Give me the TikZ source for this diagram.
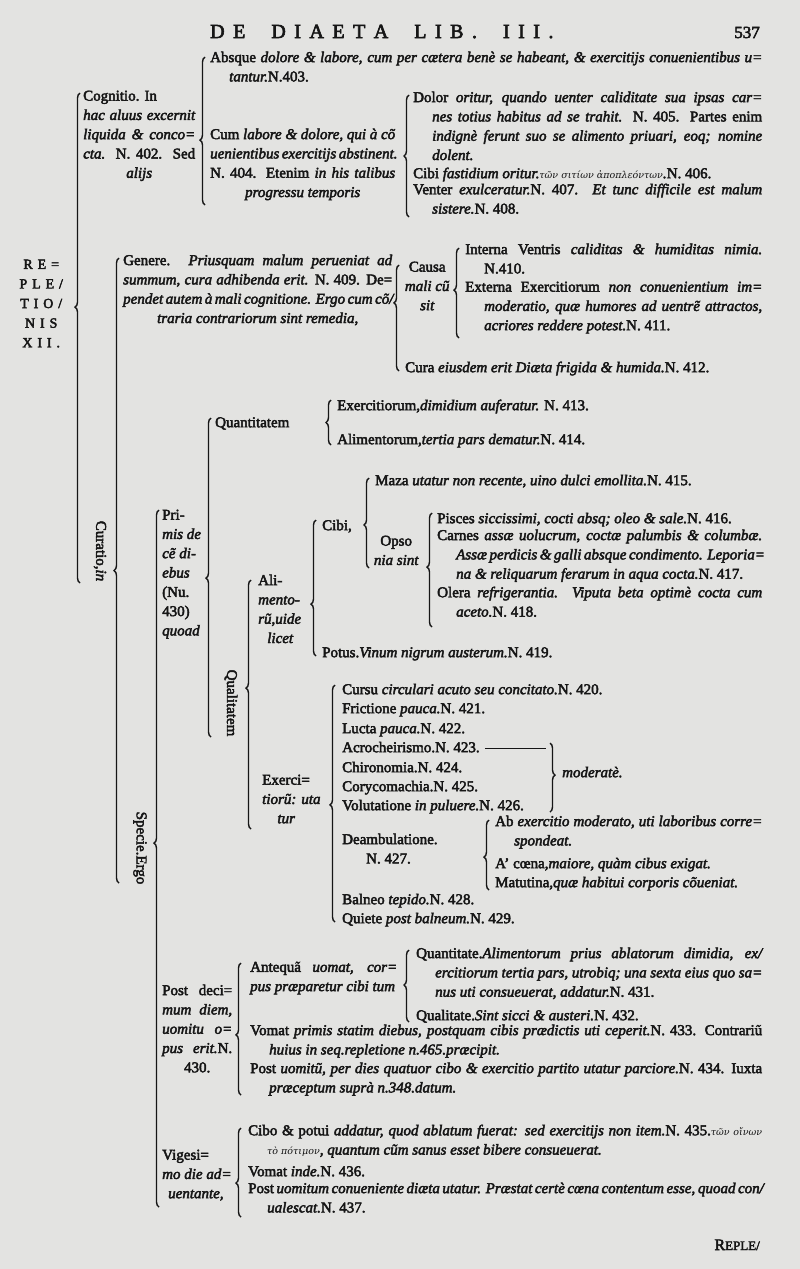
\documentclass[tikz,border=0pt]{standalone}
\usepackage{fontspec}
\setmainfont{Liberation Serif}[UprightFeatures={FakeBold=3}, ItalicFeatures={FakeBold=3}]
\newfontfamily\grk{DejaVu Serif}
\usepackage{tikz}
\usetikzlibrary{decorations.pathreplacing}
\definecolor{Paper}{HTML}{E3E3E1}
\definecolor{Ink}{HTML}{161616}
\newcommand\bodyfont{\fontsize{15}{19.3}\selectfont\itshape}
\newcommand\up[1]{\textup{#1}}
\newcommand\gr[1]{{\grk\itshape\fontsize{9.5}{11}\selectfont #1}}
\newcommand\jl[2]{\hbox to #1pt{#2}}
\newcommand\cl[2]{\hbox to #1pt{\hfil#2\hfil}}
\newcommand\ind{\hspace*{19pt}}
\newcommand\ls{\kern8.5pt}
\newcommand\ws{\kern26pt}

\begin{document}
\begin{tikzpicture}[
  x=1pt, y=-1pt,
  txt/.style={anchor=north west, inner sep=0pt, yshift=13.5pt, align=left, font=\bodyfont, text=Ink, execute at begin node=\strut},
  rot/.style={anchor=center, inner sep=0pt, rotate=-90, font=\fontsize{15}{17}\selectfont, text=Ink},
  head/.style={anchor=base west, inner sep=0pt, font=\fontsize{20}{22}\selectfont, text=Ink},
  folio/.style={anchor=base east, inner sep=0pt, font=\fontsize{17}{19}\selectfont, text=Ink},
  rep/.style={txt, font=\fontsize{14}{19.6}\selectfont\addfontfeatures{LetterSpace=35}},
  brc/.style={decorate, decoration={brace, amplitude=5pt, aspect=#1}, line width=1.4pt, draw=Ink},
  rule/.style={line width=1pt, draw=Ink}
]
  \fill[Paper] (0,0) rectangle (800,1269);
  \useasboundingbox (0,0) rectangle (800,1269);

  \node[head] (title) at (210,38) {D\ls E\ws D\ls I\ls A\ls E\ls T\ls A\ws L\ls I\ls B\ls.\ws I\ls I\ls I\ls.};
  \node[folio] (page) at (760,38) {537};

  \node[rep] (repl) at (16,273) {\cl{50}{RE=}\\\cl{50}{PLE/}\\\cl{50}{TIO/}\\\cl{50}{NIS}\\\cl{50}{XII.}};

  \node[txt] (cogn) at (83,104) {\up{Cognitio. In}\\\jl{112}{hac aluus excernit}\\\jl{112}{liquida \& conco=}\\\jl{112}{cta. \up{N. 402. Sed}}\\\cl{112}{alijs}};
  \node[txt] (absq) at (210,65) {\jl{552}{\up{Absque} dolore \& labore, cum per cætera benè se habeant, \& exercitijs conuenientibus u=}\\\ind tantur.\up{N.403.}};
  \node[txt] (cum) at (210,142) {\jl{185}{\up{Cum} labore \& dolore, qui à cõ}\\\jl{185}{uenientibus exercitijs abstinent.}\\\jl{185}{\up{N. 404. Etenim} in his talibus}\\\cl{185}{progressu temporis}};
  \node[txt] (dolor) at (413,105) {\jl{349}{\up{Dolor} oritur, quando uenter caliditate sua ipsas car=}\\\ind\jl{330}{nes totius habitus ad se trahit. \up{N. 405. Partes enim}}\\\ind\jl{330}{indignè ferunt suo se alimento priuari, eoq; nomine}\\\ind dolent.};
  \node[txt] (fast) at (413,178) {\up{Cibi} fastidium oritur.\gr{τῶν σιτίων ἀποπλεόντων}.\up{N. 406.}};
  \node[txt] (venter) at (413,197) {\jl{349}{\up{Venter} exulceratur.\up{N. 407.} Et tunc difficile est malum}\\\ind sistere.\up{N. 408.}};

  \node[rot] (curatio) at (100,551) {Curatio,\textit{in}};
  \node[txt] (genere) at (123,268) {\jl{269}{\up{Genere.} Priusquam malum perueniat ad}\\\jl{269}{summum, cura adhibenda erit. \up{N. 409. De=}}\\\jl{269}{pendet autem à mali cognitione. Ergo cum cõ/}\\\cl{269}{traria contrariorum sint remedia,}};
  \node[txt] (causa) at (404,275) {\cl{46}{\up{Causa}}\\\cl{46}{mali cũ}\\\cl{46}{sit}};
  \node[txt] (interna) at (465,257) {\jl{297}{\up{Interna Ventris} caliditas \& humiditas nimia.}\\\ind\up{N.410.}};
  \node[txt] (externa) at (465,295) {\jl{297}{\up{Externa Exercitiorum} non conuenientium im=}\\\ind\jl{278}{moderatio, quæ humores ad uentrẽ attractos,}\\\ind acriores reddere potest.\up{N. 411.}};
  \node[txt] (cura) at (405,372) {\up{Cura} eiusdem erit Diæta frigida \& humida.\up{N. 412.}};

  \node[rot] (specie) at (140,848) {Specie.Ergo};
  \node[txt] (primis) at (162,523) {\up{Pri-}\\mis de\\cẽ di-\\ebus\\\up{(Nu.}\\\up{430)}\\quoad};
  \node[txt] (quant) at (215,427) {\up{Quantitatem}};
  \node[txt] (exq) at (337,410) {\up{Exercitiorum,}dimidium auferatur.\up{ N. 413.}};
  \node[txt] (alq) at (337,444) {\up{Alimentorum,}tertia pars dematur.\up{N. 414.}};
  \node[rot] (qual) at (231,703) {Qualitatem};

  \node[txt] (alim) at (258,588) {\up{Ali-}\\mento-\\rũ,uide\\\cl{44}{licet}};
  \node[txt] (cibi) at (322,530) {\up{Cibi,}};
  \node[txt] (maza) at (375,485) {\up{Maza} utatur non recente, uino dulci emollita.\up{N. 415.}};
  \node[txt] (opso) at (372,549) {\cl{48}{\up{Opso}}\\\cl{48}{nia sint}};
  \node[txt] (pisces) at (437,523) {\up{Pisces} siccissimi, cocti absq; oleo \& sale.\up{N. 416.}};
  \node[txt] (carnes) at (437,543) {\jl{325}{\up{Carnes} assæ uolucrum, coctæ palumbis \& columbæ.}\\\ind\jl{306}{Assæ perdicis \& galli absque condimento. Leporia=}\\\ind na \& reliquarum ferarum in aqua cocta.\up{N. 417.}};
  \node[txt] (olera) at (437,600) {\jl{325}{\up{Olera} refrigerantia. Viputa beta optimè cocta cum}\\\ind aceto.\up{N. 418.}};
  \node[txt] (potus) at (322,657) {\up{Potus.}Vinum nigrum austerum.\up{N. 419.}};

  \node[txt] (exer) at (262,788) {\up{Exerci=}\\tiorũ: uta\\\cl{48}{tur}};
  \node[txt] (cursu) at (342,694) {\up{Cursu} circulari acuto seu concitato.\up{N. 420.}};
  \node[txt] (frict) at (342,713) {\up{Frictione} pauca.\up{N. 421.}};
  \node[txt] (lucta) at (342,733) {\up{Lucta} pauca.\up{N. 422.}};
  \node[txt] (acro) at (342,752) {\up{Acrocheirismo.N. 423.}};
  \node[txt] (chiro) at (342,772) {\up{Chironomia.N. 424.}};
  \node[txt] (coryc) at (342,791) {\up{Corycomachia.N. 425.}};
  \node[txt] (volut) at (342,810) {\up{Volutatione} in puluere.\up{N. 426.}};
  \node[txt] (moder) at (562,777) {moderatè.};
  \node[txt] (deamb) at (342,847) {\up{Deambulatione.}\\\hspace*{24pt}\up{N. 427.}};
  \node[txt] (abex) at (495,829) {\jl{267}{\up{Ab} exercitio moderato, uti laboribus corre=}\\\ind spondeat.};
  \node[txt] (coena) at (495,868) {\up{A' cœna,}maiore, quàm cibus exigat.};
  \node[txt] (matut) at (495,887) {\up{Matutina,}quæ habitui corporis cõueniat.};
  \node[txt] (balneo) at (342,904) {\up{Balneo} tepido.\up{N. 428.}};
  \node[txt] (quiete) at (342,923) {\up{Quiete} post balneum.\up{N. 429.}};

  \node[txt] (postdec) at (162,998) {\jl{70}{\up{Post deci=}}\\\jl{70}{mum diem,}\\\jl{70}{uomitu o=}\\\jl{70}{pus erit.\up{N.}}\\\cl{70}{\up{430.}}};
  \node[txt] (antequ) at (250,975) {\jl{147}{\up{Antequã} uomat, cor=}\\pus præparetur cibi tum};
  \node[txt] (quantit) at (416,961) {\jl{346}{\up{Quantitate.}Alimentorum prius ablatorum dimidia, ex/}\\\ind\jl{327}{ercitiorum tertia pars, utrobiq; una sexta eius quo sa=}\\\ind nus uti consueuerat, addatur.\up{N. 431.}};
  \node[txt] (qualit) at (416,1020) {\up{Qualitate.}Sint sicci \& austeri.\up{N. 432.}};
  \node[txt] (vomat) at (250,1038) {\jl{512}{\up{Vomat} primis statim diebus, postquam cibis prædictis uti ceperit.\up{N. 433. Contrariũ}}\\\ind huius in seq.repletione n.465.præcipit.};
  \node[txt] (postuo) at (250,1076) {\jl{512}{\up{Post} uomitũ, per dies quatuor cibo \& exercitio partito utatur parciore.\up{N. 434. Iuxta}}\\\ind præceptum suprà n.348.datum.};

  \node[txt] (viges) at (162,1163) {\up{Vigesi=}\\mo die ad=\\\hspace*{6pt}uentante,};
  \node[txt] (cibo) at (248,1138) {\jl{514}{\up{Cibo \& potui} addatur, quod ablatum fuerat: sed exercitijs non item.\up{N. 435.}\gr{τῶν οἴνων}}\\\ind\gr{τὸ πότιμον}, quantum cũm sanus esset bibere consueuerat.};
  \node[txt] (vomin) at (248,1176) {\up{Vomat} inde.\up{N. 436.}};
  \node[txt] (postum) at (248,1196) {\jl{514}{\up{Post} uomitum conueniente diæta utatur. Præstat certè cœna contentum esse, quoad con/}\\\ind ualescat.\up{N. 437.}};

  \node[anchor=base east, inner sep=0pt, text=Ink] (reple) at (760,1250) {{\fontsize{16}{18}\selectfont R}{\fontsize{13}{15}\selectfont EPLE/}};

  \coordinate (repl-t) at (80,93);    \coordinate (repl-b) at (80,583);
  \coordinate (cogn-t) at (205,57);   \coordinate (cogn-b) at (205,205);
  \coordinate (cum-t) at (409,95);    \coordinate (cum-b) at (409,217);
  \coordinate (cur-t) at (119,258);   \coordinate (cur-b) at (119,883);
  \coordinate (gen-t) at (399,265);   \coordinate (gen-b) at (399,371);
  \coordinate (causa-t) at (459,248); \coordinate (causa-b) at (459,338);
  \coordinate (spec-t) at (159,510);  \coordinate (spec-b) at (159,1207);
  \coordinate (prim-t) at (211,418);  \coordinate (prim-b) at (211,737);
  \coordinate (quant-t) at (331,400); \coordinate (quant-b) at (331,445);
  \coordinate (qual-t) at (251,580);  \coordinate (qual-b) at (251,829);
  \coordinate (alim-t) at (316,520);  \coordinate (alim-b) at (316,656);
  \coordinate (cibi-t) at (369,478);  \coordinate (cibi-b) at (369,568);
  \coordinate (opso-t) at (432,513);  \coordinate (opso-b) at (432,627);
  \coordinate (exer-t) at (335,685);  \coordinate (exer-b) at (335,922);
  \coordinate (mod-t) at (550,743);   \coordinate (mod-b) at (550,812);
  \coordinate (deamb-t) at (489,820); \coordinate (deamb-b) at (489,890);
  \coordinate (post-t) at (241,963);  \coordinate (post-b) at (241,1095);
  \coordinate (ante-t) at (409,950);  \coordinate (ante-b) at (409,1022);
  \coordinate (vig-t) at (241,1128);  \coordinate (vig-b) at (241,1217);

  \draw[brc=0.563] (repl-b) -- (repl-t);
  \draw[brc=0.439] (cogn-b) -- (cogn-t);
  \draw[brc=0.5] (cum-b) -- (cum-t);
  \draw[brc=0.5] (cur-b) -- (cur-t);
  \draw[brc=0.642] (gen-b) -- (gen-t);
  \draw[brc=0.533] (causa-b) -- (causa-t);
  \draw[brc=0.522] (spec-b) -- (spec-t);
  \draw[brc=0.498] (prim-b) -- (prim-t);
  \draw[brc=0.5] (quant-b) -- (quant-t);
  \draw[brc=0.566] (qual-b) -- (qual-t);
  \draw[brc=0.382] (alim-b) -- (alim-t);
  \draw[brc=0.478] (cibi-b) -- (cibi-t);
  \draw[brc=0.526] (opso-b) -- (opso-t);
  \draw[brc=0.494] (exer-b) -- (exer-t);
  \draw[brc=0.464] (mod-t) -- (mod-b);
  \draw[brc=0.471] (deamb-b) -- (deamb-t);
  \draw[brc=0.455] (post-b) -- (post-t);
  \draw[brc=0.514] (ante-b) -- (ante-t);
  \draw[brc=0.382] (vig-b) -- (vig-t);

  \draw[rule] ([xshift=5pt]acro.east) -- ([xshift=-4pt]mod-t |- acro.east);
\end{tikzpicture}
\end{document}
